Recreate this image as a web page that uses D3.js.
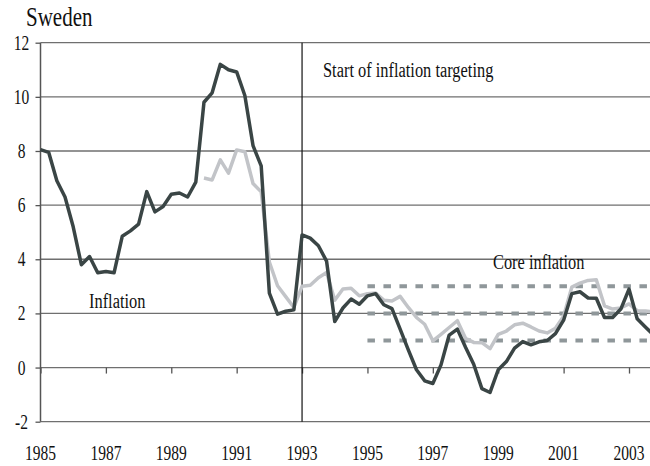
<!DOCTYPE html>
<html>
<head>
    <title>Sweden inflation</title>
    <style>
        body { margin: 0; background: #fff; }
        text { font-family: "Liberation Serif", "Times New Roman", serif; fill: #111; }
        .grid line { stroke: #6f6f6f; stroke-width: 1.3px; }
        .axis path { display: none; }
        .axis line { stroke: #555; stroke-width: 1.3px; }
    </style>
</head>
<body>
    <svg width="650" height="466"></svg>

    <script src="https://d3js.org/d3.v7.min.js"></script>
    <script>
        // Quarterly data, first value is 1985 Q1
        var startYear = 1985;
        var inflation = [
            8.05, 7.95, 6.9, 6.3, 5.2, 3.8, 4.1, 3.5,
            3.55, 3.5, 4.85, 5.05, 5.3, 6.5, 5.75, 5.95,
            6.4, 6.45, 6.3, 6.85, 9.8, 10.15, 11.2, 11.0,
            10.92, 10.05, 8.2, 7.45, 2.75, 1.97, 2.08, 2.13,
            4.9, 4.78, 4.5, 3.93, 1.7, 2.2, 2.53, 2.34,
            2.65, 2.73, 2.32, 2.18, 1.42, 0.65, -0.08, -0.49,
            -0.59, 0.1, 1.2, 1.42, 0.75, 0.12, -0.78, -0.92,
            -0.08, 0.22, 0.72, 0.96, 0.84, 0.95, 1.0, 1.25,
            1.75, 2.73, 2.8, 2.57, 2.56, 1.85, 1.85, 2.16,
            2.9, 1.8, 1.5, 1.2
        ];

        // Core inflation, first value is 1990 Q1
        var coreStart = 1990;
        var core = [
            7.0, 6.93, 7.67, 7.18, 8.04, 7.97, 6.8, 6.49,
            3.9, 3.02, 2.62, 2.22, 3.0, 3.04, 3.32, 3.51,
            2.49, 2.9, 2.93, 2.65, 2.73, 2.75, 2.49, 2.46,
            2.63, 2.22, 1.85, 1.6, 0.99, 1.23, 1.48, 1.73,
            1.08, 0.93, 0.92, 0.7, 1.23, 1.35, 1.58, 1.64,
            1.5, 1.35, 1.28, 1.45, 1.9, 2.97, 3.12, 3.22,
            3.24, 2.28, 2.16, 2.2, 2.35, 2.1, 2.09, 2.05
        ];

        var yTicks = [-2, 0, 2, 4, 6, 8, 10, 12];
        var xTicks = [1985, 1987, 1989, 1991, 1993, 1995, 1997, 1999, 2001, 2003];
        var targetLevels = [1, 2, 3];   // target 2% with +/- 1 band
        var targetStart = 1995;
        var targetingStart = 1993;

        var svg = d3.select("svg"),
            width = +svg.attr("width"),
            height = +svg.attr("height");

        var x = d3.scaleLinear().domain([1985, 2003]).range([40.5, 629]);
        var y = d3.scaleLinear().domain([-2, 12]).range([421.7, 42.7]);

        // text in the original is stretched vertically
        function label(tx, ty, str, size, anchor) {
            return svg.append("text")
                .attr("transform", "translate(" + tx + "," + ty + ") scale(1,1.3)")
                .attr("font-size", size)
                .attr("text-anchor", anchor || "start")
                .text(str);
        }

        // horizontal gridlines
        svg.append("g")
            .attr("class", "grid")
            .selectAll("line")
            .data(yTicks)
            .enter().append("line")
            .attr("x1", x(1985))
            .attr("x2", width)
            .attr("y1", function(d) { return y(d); })
            .attr("y2", function(d) { return y(d); });

        // y axis (left line + small ticks)
        svg.append("g")
            .attr("class", "axis")
            .attr("transform", "translate(" + x(1985) + ",0)")
            .call(d3.axisLeft(y).tickValues(yTicks).tickSize(5).tickFormat(""));
        svg.append("line")
            .attr("x1", x(1985)).attr("x2", x(1985))
            .attr("y1", y(12)).attr("y2", y(-2))
            .attr("stroke", "#555").attr("stroke-width", 1.5);

        // x axis ticks sit on the zero line
        svg.append("g")
            .attr("class", "axis")
            .attr("transform", "translate(0," + y(0) + ")")
            .call(d3.axisBottom(x).tickValues(xTicks).tickSize(6).tickFormat(""));

        yTicks.forEach(function(d) {
            label(21.5, y(d) + 7, d, 15.5, "middle");
        });
        xTicks.forEach(function(d) {
            label(x(d), 460, d, 15.5, "middle");
        });

        // inflation target band
        svg.append("g")
            .selectAll("line")
            .data(targetLevels)
            .enter().append("line")
            .attr("x1", x(targetStart))
            .attr("x2", width)
            .attr("y1", function(d) { return y(d); })
            .attr("y2", function(d) { return y(d); })
            .attr("stroke", "#8f979a")
            .attr("stroke-width", 4)
            .attr("stroke-dasharray", "7.5,8.5");

        // start of inflation targeting
        svg.append("line")
            .attr("x1", x(targetingStart)).attr("x2", x(targetingStart))
            .attr("y1", y(12)).attr("y2", y(-2))
            .attr("stroke", "#111").attr("stroke-width", 1.2);

        var line = d3.line()
            .x(function(d) { return x(d.t); })
            .y(function(d) { return y(d.v); });

        var coreData = core.map(function(v, i) { return {t: coreStart + i / 4, v: v}; });
        var inflData = inflation.map(function(v, i) { return {t: startYear + i / 4, v: v}; });

        svg.append("path")
            .datum(coreData)
            .attr("d", line)
            .attr("fill", "none")
            .attr("stroke", "#c2c4c8")
            .attr("stroke-width", 3.5)
            .attr("stroke-linejoin", "round");

        svg.append("path")
            .datum(inflData)
            .attr("d", line)
            .attr("fill", "none")
            .attr("stroke", "#3a4545")
            .attr("stroke-width", 3.5)
            .attr("stroke-linejoin", "round");

        // titles and annotations
        label(26, 26, "Sweden", 21);
        label(323, 77, "Start of inflation targeting", 16.4);
        label(89, 308, "Inflation", 16.4);
        label(493, 269, "Core inflation", 16.4);
    </script>
</body>
</html>
